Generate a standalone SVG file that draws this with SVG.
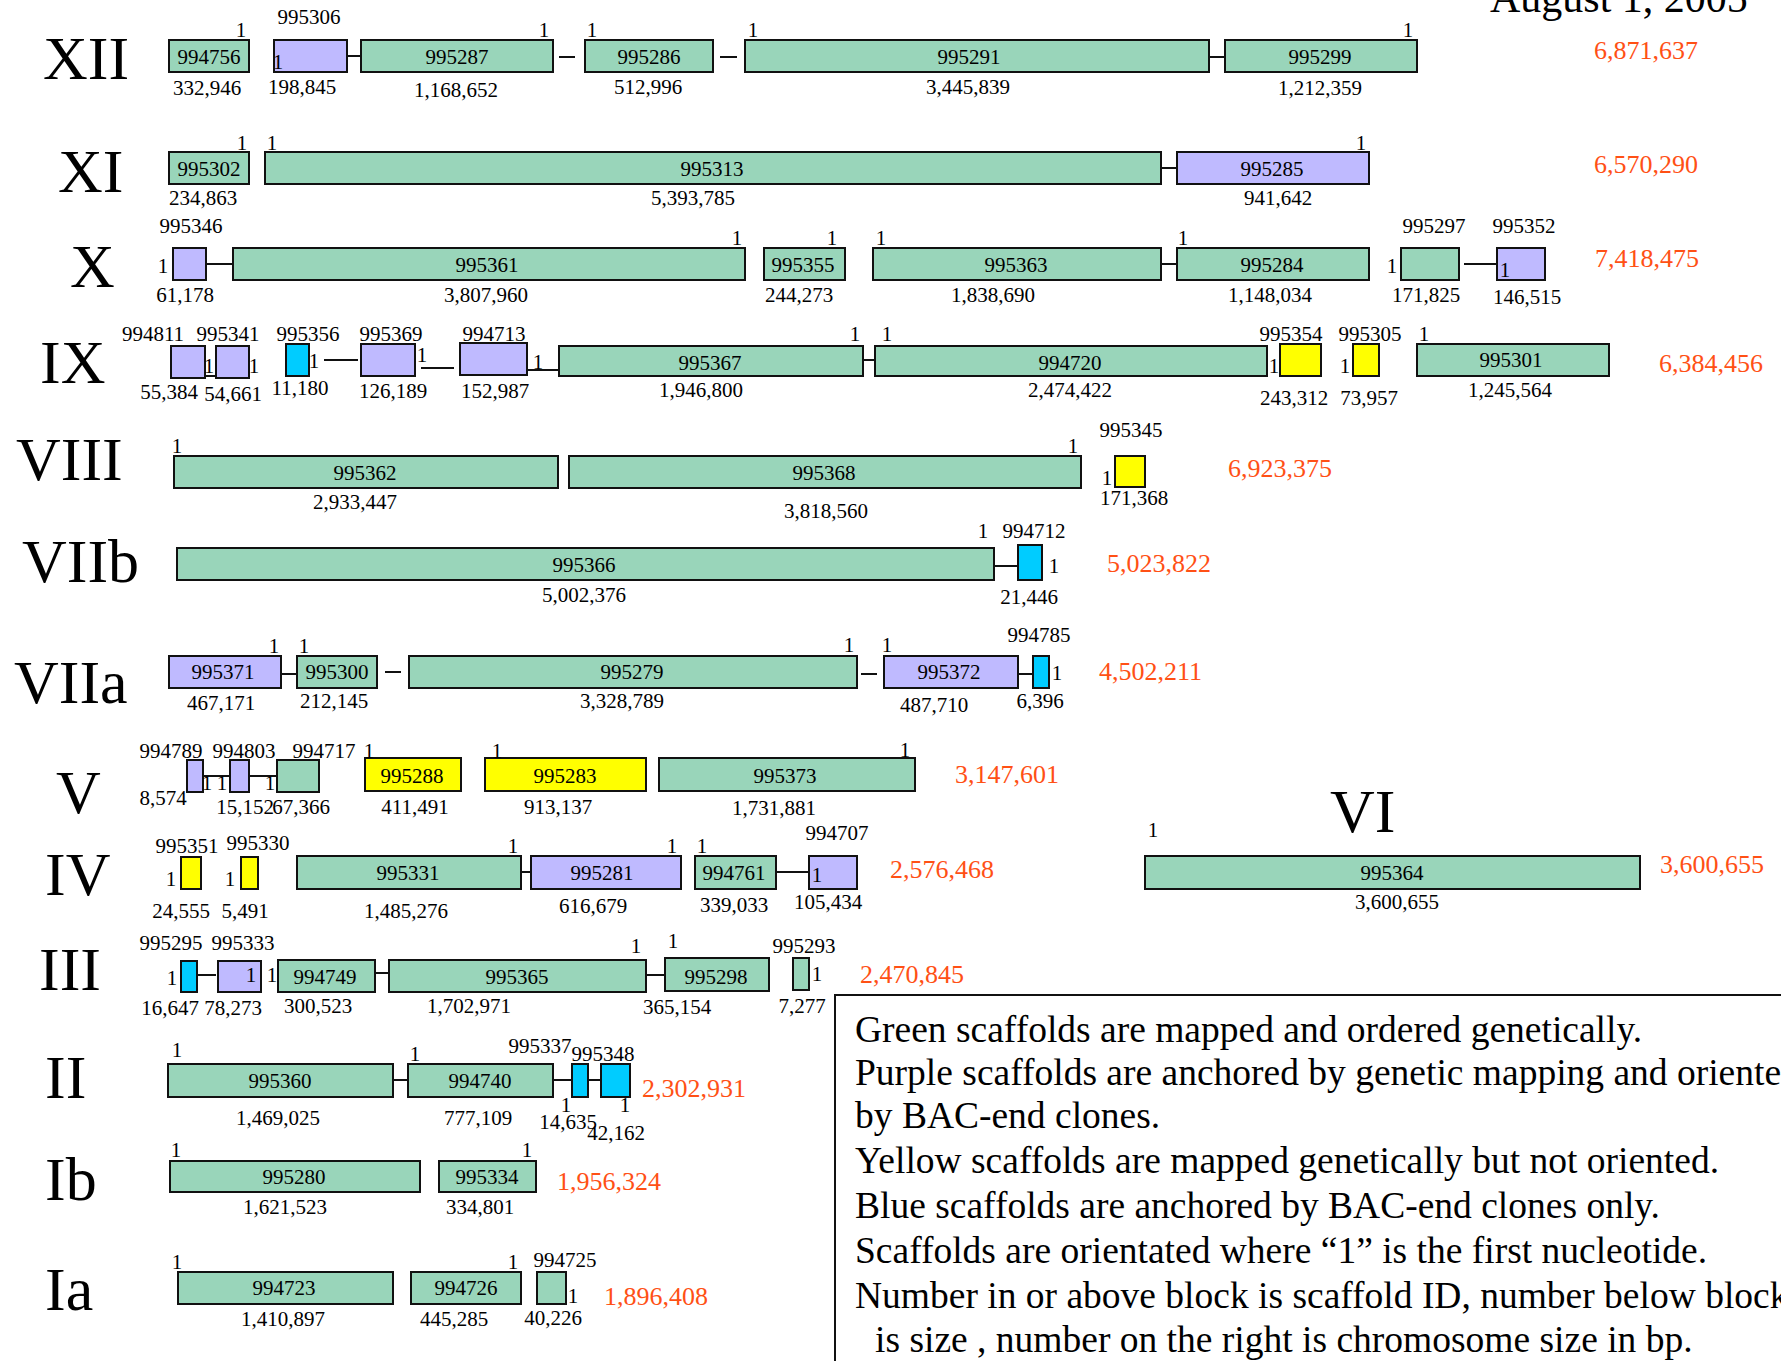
<svg xmlns="http://www.w3.org/2000/svg" width="1781" height="1361" viewBox="0 0 1781 1361">
<style>
text{font-family:"Liberation Serif","Times New Roman",serif;fill:#000}
.t{font-size:21px;text-anchor:middle}
.num{font-size:62px}
.tot{font-size:26px;fill:#FF5015}
.leg{font-size:37.5px}
.date{font-size:42px}
rect{stroke:#111;stroke-width:2}
rect.bg{stroke:none;fill:#fff}
.g{fill:#99D5BA}.p{fill:#BFBAFF}.y{fill:#FFFF00}.c{fill:#00CCFF}
.ln{stroke:#111;stroke-width:2;fill:none}
</style>
<rect class="bg" width="1781" height="1361"/>
<text class="date" x="1490" y="12">August 1, 2005</text>

<g id="labels">
<text class="num" x="43" y="79">XII</text>
<text class="num" x="58" y="192">XI</text>
<text class="num" x="70" y="287">X</text>
<text class="num" x="40" y="383">IX</text>
<text class="num" x="16" y="480">VIII</text>
<text class="num" x="22" y="582">VIIb</text>
<text class="num" x="14" y="703">VIIa</text>
<text class="num" x="56" y="813">V</text>
<text class="num" x="45" y="895">IV</text>
<text class="num" x="1330" y="832">VI</text>
<text class="num" x="39" y="990">III</text>
<text class="num" x="45" y="1098">II</text>
<text class="num" x="45" y="1200">Ib</text>
<text class="num" x="45" y="1310">Ia</text>
</g>

<g id="totals">
<text class="tot" x="1594" y="59">6,871,637</text>
<text class="tot" x="1594" y="173">6,570,290</text>
<text class="tot" x="1595" y="267">7,418,475</text>
<text class="tot" x="1659" y="372">6,384,456</text>
<text class="tot" x="1228" y="477">6,923,375</text>
<text class="tot" x="1107" y="572">5,023,822</text>
<text class="tot" x="1099" y="680">4,502,211</text>
<text class="tot" x="955" y="783">3,147,601</text>
<text class="tot" x="890" y="878">2,576,468</text>
<text class="tot" x="1660" y="873">3,600,655</text>
<text class="tot" x="860" y="983">2,470,845</text>
<text class="tot" x="642" y="1097">2,302,931</text>
<text class="tot" x="557" y="1190">1,956,324</text>
<text class="tot" x="604" y="1305">1,896,408</text>
</g>

<g id="connectors">
<line class="ln" x1="347" y1="56" x2="361" y2="56"/>
<line class="ln" x1="559" y1="57" x2="575" y2="57"/>
<line class="ln" x1="720" y1="57" x2="737" y2="57"/>
<line class="ln" x1="1209" y1="57" x2="1225" y2="57"/>
<line class="ln" x1="1161" y1="168" x2="1177" y2="168"/>
<line class="ln" x1="206" y1="264" x2="233" y2="264"/>
<line class="ln" x1="1161" y1="264" x2="1177" y2="264"/>
<line class="ln" x1="1464" y1="264" x2="1497" y2="264"/>
<line class="ln" x1="201" y1="376" x2="233" y2="376"/>
<line class="ln" x1="324" y1="360" x2="358" y2="360"/>
<line class="ln" x1="421" y1="368" x2="454" y2="368"/>
<line class="ln" x1="527" y1="370" x2="559" y2="370"/>
<line class="ln" x1="863" y1="360" x2="875" y2="360"/>
<line class="ln" x1="994" y1="566" x2="1018" y2="566"/>
<line class="ln" x1="281" y1="674" x2="297" y2="674"/>
<line class="ln" x1="385" y1="672" x2="401" y2="672"/>
<line class="ln" x1="861" y1="674" x2="877" y2="674"/>
<line class="ln" x1="1018" y1="674" x2="1033" y2="674"/>
<line class="ln" x1="203" y1="776" x2="233" y2="776"/>
<line class="ln" x1="249" y1="776" x2="279" y2="776"/>
<line class="ln" x1="521" y1="872" x2="531" y2="872"/>
<line class="ln" x1="776" y1="872" x2="809" y2="872"/>
<line class="ln" x1="197" y1="975" x2="216" y2="975"/>
<line class="ln" x1="375" y1="973" x2="389" y2="973"/>
<line class="ln" x1="646" y1="975" x2="665" y2="975"/>
<line class="ln" x1="393" y1="1080" x2="408" y2="1080"/>
<line class="ln" x1="553" y1="1080" x2="572" y2="1080"/>
<line class="ln" x1="588" y1="1080" x2="601" y2="1080"/>
</g>

<!-- XII -->
<g id="n994756"><rect class="g" x="169" y="40" width="80" height="32"/><text class="t" x="209" y="64">994756</text><text class="t" x="241" y="37">1</text><text class="t" x="207" y="95">332,946</text></g>
<g id="n995306"><rect class="p" x="274" y="40" width="73" height="32"/><text class="t" x="309" y="24">995306</text><text class="t" x="278" y="69">1</text><text class="t" x="302" y="94">198,845</text></g>
<g id="n995287"><rect class="g" x="361" y="40" width="192" height="32"/><text class="t" x="457" y="64">995287</text><text class="t" x="544" y="37">1</text><text class="t" x="456" y="97">1,168,652</text></g>
<g id="n995286"><rect class="g" x="585" y="40" width="128" height="32"/><text class="t" x="649" y="64">995286</text><text class="t" x="592" y="37">1</text><text class="t" x="648" y="94">512,996</text></g>
<g id="n995291"><rect class="g" x="745" y="40" width="464" height="32"/><text class="t" x="969" y="64">995291</text><text class="t" x="753" y="37">1</text><text class="t" x="968" y="94">3,445,839</text></g>
<g id="n995299"><rect class="g" x="1225" y="40" width="192" height="32"/><text class="t" x="1320" y="64">995299</text><text class="t" x="1408" y="37">1</text><text class="t" x="1320" y="95">1,212,359</text></g>

<!-- XI -->
<g id="n995302"><rect class="g" x="169" y="152" width="80" height="32"/><text class="t" x="209" y="176">995302</text><text class="t" x="242" y="150">1</text><text class="t" x="203" y="205">234,863</text></g>
<g id="n995313"><rect class="g" x="265" y="152" width="896" height="32"/><text class="t" x="712" y="176">995313</text><text class="t" x="272" y="150">1</text><text class="t" x="693" y="205">5,393,785</text></g>
<g id="n995285"><rect class="p" x="1177" y="152" width="192" height="32"/><text class="t" x="1272" y="176">995285</text><text class="t" x="1361" y="150">1</text><text class="t" x="1278" y="205">941,642</text></g>

<!-- X -->
<g id="n995346"><rect class="p" x="173" y="248" width="33" height="32"/><text class="t" x="191" y="233">995346</text><text class="t" x="163" y="273">1</text><text class="t" x="185" y="302">61,178</text></g>
<g id="n995361"><rect class="g" x="233" y="248" width="512" height="32"/><text class="t" x="487" y="272">995361</text><text class="t" x="737" y="245">1</text><text class="t" x="486" y="302">3,807,960</text></g>
<g id="n995355"><rect class="g" x="764" y="248" width="81" height="32"/><text class="t" x="803" y="272">995355</text><text class="t" x="832" y="245">1</text><text class="t" x="799" y="302">244,273</text></g>
<g id="n995363"><rect class="g" x="873" y="248" width="288" height="32"/><text class="t" x="1016" y="272">995363</text><text class="t" x="881" y="245">1</text><text class="t" x="993" y="302">1,838,690</text></g>
<g id="n995284"><rect class="g" x="1177" y="248" width="192" height="32"/><text class="t" x="1272" y="272">995284</text><text class="t" x="1183" y="245">1</text><text class="t" x="1270" y="302">1,148,034</text></g>
<g id="n995297"><rect class="g" x="1401" y="248" width="58" height="32"/><text class="t" x="1434" y="233">995297</text><text class="t" x="1392" y="273">1</text><text class="t" x="1426" y="302">171,825</text></g>
<g id="n995352"><rect class="p" x="1497" y="248" width="48" height="32"/><text class="t" x="1524" y="233">995352</text><text class="t" x="1505" y="277">1</text><text class="t" x="1527" y="304">146,515</text></g>

<!-- IX -->
<g id="n994811"><rect class="p" x="171" y="346" width="34" height="32"/><text class="t" x="153" y="341">994811</text><text class="t" x="209" y="373">1</text><text class="t" x="169" y="399">55,384</text></g>
<g id="n995341"><rect class="p" x="216" y="346" width="33" height="32"/><text class="t" x="228" y="341">995341</text><text class="t" x="254" y="373">1</text><text class="t" x="233" y="401">54,661</text></g>
<g id="n995356"><rect class="c" x="286" y="344" width="23" height="32"/><text class="t" x="308" y="341">995356</text><text class="t" x="314" y="368">1</text><text class="t" x="300" y="395">11,180</text></g>
<g id="n995369"><rect class="p" x="361" y="344" width="54" height="32"/><text class="t" x="391" y="341">995369</text><text class="t" x="422" y="362">1</text><text class="t" x="393" y="398">126,189</text></g>
<g id="n994713"><rect class="p" x="460" y="343" width="67" height="32"/><text class="t" x="494" y="341">994713</text><text class="t" x="538" y="369">1</text><text class="t" x="495" y="398">152,987</text></g>
<g id="n995367"><rect class="g" x="559" y="346" width="304" height="30"/><text class="t" x="710" y="370">995367</text><text class="t" x="855" y="341">1</text><text class="t" x="701" y="397">1,946,800</text></g>
<g id="n994720"><rect class="g" x="875" y="346" width="392" height="30"/><text class="t" x="1070" y="370">994720</text><text class="t" x="887" y="341">1</text><text class="t" x="1070" y="397">2,474,422</text></g>
<g id="n995354"><rect class="y" x="1280" y="344" width="41" height="32"/><text class="t" x="1291" y="341">995354</text><text class="t" x="1274" y="373">1</text><text class="t" x="1294" y="405">243,312</text></g>
<g id="n995305"><rect class="y" x="1353" y="344" width="26" height="32"/><text class="t" x="1370" y="341">995305</text><text class="t" x="1345" y="373">1</text><text class="t" x="1369" y="405">73,957</text></g>
<g id="n995301"><rect class="g" x="1417" y="344" width="192" height="32"/><text class="t" x="1511" y="367">995301</text><text class="t" x="1424" y="341">1</text><text class="t" x="1510" y="397">1,245,564</text></g>

<!-- VIII -->
<g id="n995362"><rect class="g" x="174" y="456" width="384" height="32"/><text class="t" x="365" y="480">995362</text><text class="t" x="177" y="453">1</text><text class="t" x="355" y="509">2,933,447</text></g>
<g id="n995368"><rect class="g" x="569" y="456" width="512" height="32"/><text class="t" x="824" y="480">995368</text><text class="t" x="1073" y="453">1</text><text class="t" x="826" y="518">3,818,560</text></g>
<g id="n995345"><rect class="y" x="1115" y="456" width="30" height="31"/><text class="t" x="1131" y="437">995345</text><text class="t" x="1107" y="485">1</text><text class="t" x="1134" y="505">171,368</text></g>

<!-- VIIb -->
<g id="n995366"><rect class="g" x="177" y="548" width="817" height="32"/><text class="t" x="584" y="572">995366</text><text class="t" x="983" y="538">1</text><text class="t" x="584" y="602">5,002,376</text></g>
<g id="n994712"><rect class="c" x="1018" y="545" width="24" height="35"/><text class="t" x="1034" y="538">994712</text><text class="t" x="1054" y="573">1</text><text class="t" x="1029" y="604">21,446</text></g>

<!-- VIIa -->
<g id="n995371"><rect class="p" x="169" y="656" width="112" height="32"/><text class="t" x="223" y="679">995371</text><text class="t" x="274" y="653">1</text><text class="t" x="221" y="710">467,171</text></g>
<g id="n995300"><rect class="g" x="297" y="656" width="80" height="32"/><text class="t" x="337" y="679">995300</text><text class="t" x="304" y="653">1</text><text class="t" x="334" y="708">212,145</text></g>
<g id="n995279"><rect class="g" x="409" y="656" width="448" height="32"/><text class="t" x="632" y="679">995279</text><text class="t" x="849" y="652">1</text><text class="t" x="622" y="708">3,328,789</text></g>
<g id="n995372"><rect class="p" x="884" y="656" width="134" height="32"/><text class="t" x="949" y="679">995372</text><text class="t" x="887" y="652">1</text><text class="t" x="934" y="712">487,710</text></g>
<g id="n994785"><rect class="c" x="1033" y="656" width="16" height="32"/><text class="t" x="1039" y="642">994785</text><text class="t" x="1057" y="680">1</text><text class="t" x="1040" y="708">6,396</text></g>

<!-- V -->
<g id="n994789"><rect class="p" x="187" y="760" width="16" height="32"/><text class="t" x="171" y="758">994789</text><text class="t" x="207" y="790">1</text><text class="t" x="163" y="805">8,574</text></g>
<g id="n994803"><rect class="p" x="230" y="760" width="19" height="32"/><text class="t" x="244" y="758">994803</text><text class="t" x="222" y="790">1</text><text class="t" x="245" y="814">15,152</text></g>
<g id="n994717"><rect class="g" x="277" y="760" width="42" height="32"/><text class="t" x="324" y="758">994717</text><text class="t" x="270" y="790">1</text><text class="t" x="301" y="814">67,366</text></g>
<g id="n995288"><rect class="y" x="365" y="758" width="96" height="33"/><text class="t" x="412" y="783">995288</text><text class="t" x="369" y="758">1</text><text class="t" x="415" y="814">411,491</text></g>
<g id="n995283"><rect class="y" x="485" y="758" width="161" height="33"/><text class="t" x="565" y="783">995283</text><text class="t" x="497" y="758">1</text><text class="t" x="558" y="814">913,137</text></g>
<g id="n995373"><rect class="g" x="659" y="758" width="256" height="33"/><text class="t" x="785" y="783">995373</text><text class="t" x="905" y="757">1</text><text class="t" x="774" y="815">1,731,881</text></g>

<!-- IV -->
<g id="n995351"><rect class="y" x="181" y="857" width="20" height="32"/><text class="t" x="187" y="853">995351</text><text class="t" x="171" y="886">1</text><text class="t" x="181" y="918">24,555</text></g>
<g id="n995330"><rect class="y" x="241" y="857" width="17" height="32"/><text class="t" x="258" y="850">995330</text><text class="t" x="230" y="886">1</text><text class="t" x="245" y="918">5,491</text></g>
<g id="n995331"><rect class="g" x="297" y="856" width="224" height="33"/><text class="t" x="408" y="880">995331</text><text class="t" x="513" y="853">1</text><text class="t" x="406" y="918">1,485,276</text></g>
<g id="n995281"><rect class="p" x="531" y="856" width="150" height="33"/><text class="t" x="602" y="880">995281</text><text class="t" x="672" y="853">1</text><text class="t" x="593" y="913">616,679</text></g>
<g id="n994761"><rect class="g" x="695" y="856" width="81" height="33"/><text class="t" x="734" y="880">994761</text><text class="t" x="702" y="853">1</text><text class="t" x="734" y="912">339,033</text></g>
<g id="n994707"><rect class="p" x="809" y="856" width="48" height="33"/><text class="t" x="837" y="840">994707</text><text class="t" x="817" y="882">1</text><text class="t" x="828" y="909">105,434</text></g>

<!-- VI -->
<g id="n995364"><rect class="g" x="1145" y="856" width="495" height="33"/><text class="t" x="1392" y="880">995364</text><text class="t" x="1153" y="837">1</text><text class="t" x="1397" y="909">3,600,655</text></g>

<!-- III -->
<g id="n995295"><rect class="c" x="181" y="961" width="16" height="31"/><text class="t" x="171" y="950">995295</text><text class="t" x="172" y="985">1</text><text class="t" x="170" y="1015">16,647</text></g>
<g id="n995333"><rect class="p" x="218" y="961" width="43" height="31"/><text class="t" x="243" y="950">995333</text><text class="t" x="251" y="982">1</text><text class="t" x="233" y="1015">78,273</text></g>
<g id="n994749"><rect class="g" x="278" y="960" width="97" height="32"/><text class="t" x="325" y="984">994749</text><text class="t" x="272" y="982">1</text><text class="t" x="318" y="1013">300,523</text></g>
<g id="n995365"><rect class="g" x="389" y="960" width="257" height="32"/><text class="t" x="517" y="984">995365</text><text class="t" x="636" y="953">1</text><text class="t" x="469" y="1013">1,702,971</text></g>
<g id="n995298"><rect class="g" x="665" y="958" width="104" height="33"/><text class="t" x="716" y="984">995298</text><text class="t" x="673" y="948">1</text><text class="t" x="677" y="1014">365,154</text></g>
<g id="n995293"><rect class="g" x="793" y="958" width="16" height="32"/><text class="t" x="804" y="953">995293</text><text class="t" x="817" y="981">1</text><text class="t" x="802" y="1013">7,277</text></g>

<!-- II -->
<g id="n995360"><rect class="g" x="168" y="1064" width="225" height="33"/><text class="t" x="280" y="1088">995360</text><text class="t" x="177" y="1057">1</text><text class="t" x="278" y="1125">1,469,025</text></g>
<g id="n994740"><rect class="g" x="408" y="1064" width="145" height="33"/><text class="t" x="480" y="1088">994740</text><text class="t" x="415" y="1061">1</text><text class="t" x="478" y="1125">777,109</text></g>
<g id="n995337"><rect class="c" x="572" y="1064" width="16" height="33"/><text class="t" x="540" y="1053">995337</text><text class="t" x="566" y="1112">1</text><text class="t" x="568" y="1129">14,635</text></g>
<g id="n995348"><rect class="c" x="601" y="1064" width="29" height="33"/><text class="t" x="603" y="1061">995348</text><text class="t" x="625" y="1112">1</text><text class="t" x="616" y="1140">42,162</text></g>

<!-- Ib -->
<g id="n995280"><rect class="g" x="170" y="1161" width="250" height="31"/><text class="t" x="294" y="1184">995280</text><text class="t" x="176" y="1157">1</text><text class="t" x="285" y="1214">1,621,523</text></g>
<g id="n995334"><rect class="g" x="439" y="1161" width="97" height="31"/><text class="t" x="487" y="1184">995334</text><text class="t" x="527" y="1157">1</text><text class="t" x="480" y="1214">334,801</text></g>

<!-- Ia -->
<g id="n994723"><rect class="g" x="178" y="1272" width="215" height="32"/><text class="t" x="284" y="1295">994723</text><text class="t" x="177" y="1269">1</text><text class="t" x="283" y="1326">1,410,897</text></g>
<g id="n994726"><rect class="g" x="411" y="1272" width="110" height="32"/><text class="t" x="466" y="1295">994726</text><text class="t" x="513" y="1269">1</text><text class="t" x="454" y="1326">445,285</text></g>
<g id="n994725"><rect class="g" x="537" y="1272" width="29" height="32"/><text class="t" x="565" y="1267">994725</text><text class="t" x="573" y="1303">1</text><text class="t" x="553" y="1325">40,226</text></g>

<g id="legend">
<rect x="835" y="995" width="1000" height="420" fill="#fff"/>
<text class="leg" x="855" y="1042">Green scaffolds are mapped and ordered genetically.</text>
<text class="leg" x="855" y="1085">Purple scaffolds are anchored by genetic mapping and oriented</text>
<text class="leg" x="855" y="1128">by BAC-end clones.</text>
<text class="leg" x="855" y="1173">Yellow scaffolds are mapped genetically but not oriented.</text>
<text class="leg" x="855" y="1218">Blue scaffolds are anchored by BAC-end clones only.</text>
<text class="leg" x="855" y="1263">Scaffolds are orientated where “1” is the first nucleotide.</text>
<text class="leg" x="855" y="1308">Number in or above block is scaffold ID, number below block</text>
<text class="leg" x="875" y="1352">is size , number on the right is chromosome size in bp.</text>
</g>
</svg>
